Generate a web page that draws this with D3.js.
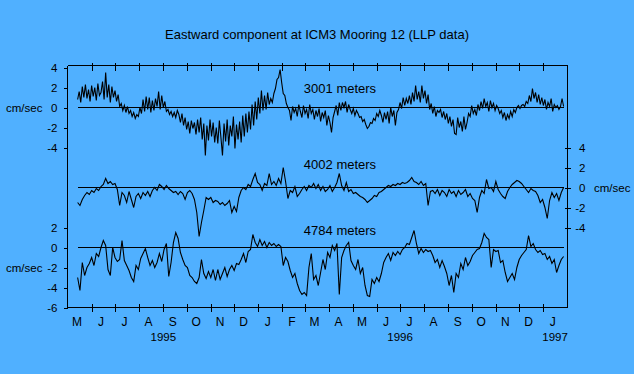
<!DOCTYPE html>
<html><head><meta charset="utf-8">
<script src="https://cdn.jsdelivr.net/npm/d3@7"></script>
<style>
html,body{margin:0;padding:0;background:#50B0FF;}
svg{display:block;}
text{font-family:"Liberation Sans",Arial,sans-serif;fill:#000;}
</style></head>
<body>
<svg id="c" width="634" height="374"></svg>
<script>
// ---------- data ----------
const title = "Eastward component at ICM3 Mooring 12 (LLP data)";
const seriesNames = ["3001 meters", "4002 meters", "4784 meters"];
const unitLabel = "cm/sec";
const startDate = "1995-05-14";      // first sample
const stepTop = 2;                   // sampling interval (days), 3001 m
const stepLow = 3;                   // sampling interval (days), 4002 m and 4784 m
const monthLetters = ["J","F","M","A","M","J","J","A","S","O","N","D"];
const yearLabels = [["1995","1995-09-01"],["1996","1996-07-01"],["1997","1997-01-16"]];
const ticksTop = [4,2,0,-2,-4];
const ticksMid = [4,2,0,-2,-4];
const ticksBot = [2,0,-2,-4,-6];

const v3001 = [
0.8,1.6,0.5,2.1,1.0,2.3,0.9,1.8,0.6,2.2,1.1,2.0,0.7,2.4,1.2,
1.5,2.6,0.8,3.5,1.0,2.3,0.5,2.1,1.0,1.7,0.6,1.3,0.1,0.4,-0.3,
0.2,-0.5,0.1,-0.6,-0.3,-0.9,-0.5,-1.1,-0.7,-0.9,0.0,-0.6,0.8,-0.4,1.1,
-0.2,1.0,-0.5,0.7,-0.3,0.9,0.1,1.6,-0.2,1.2,0.0,0.6,-0.4,-0.2,-0.7,
-0.4,-0.9,-0.5,-1.0,-0.3,-0.7,-1.5,-0.6,-1.8,-1.0,-2.2,-1.4,-2.6,-1.3,-2.1,
-1.5,-2.7,-1.2,-2.5,-1.0,-3.2,-1.6,-4.8,-1.8,-3.3,-1.2,-2.9,-1.5,-3.5,-2.0,
-3.6,-1.3,-3.0,-4.8,-1.6,-3.4,-1.2,-3.8,-1.8,-2.9,-0.9,-4.1,-1.7,-3.2,-1.4,
-3.5,-0.8,-2.9,-0.6,-2.5,-0.4,-2.2,0.3,-1.8,0.6,-1.2,1.0,-0.6,1.7,-0.3,
1.2,-0.2,1.5,0.3,0.9,0.5,1.4,1.9,2.8,3.0,3.8,2.5,1.4,1.2,0.4,
0.0,-0.3,-1.3,0.1,-0.5,-0.1,-0.9,0.3,-0.4,-1.0,0.2,-0.6,-0.2,-1.1,0.3,
-0.6,-0.2,-1.2,-0.3,-0.9,-0.1,-1.4,-0.5,-1.0,-0.3,-1.8,-0.8,-1.5,-2.5,-1.0,
-0.4,0.2,-0.8,0.5,-0.3,0.5,0.0,0.6,-0.5,0.3,-0.2,-0.6,-0.1,-0.8,-0.3,
-0.6,-1.0,-0.9,-1.4,-1.2,-1.7,-2.1,-1.9,-1.5,-1.6,-1.1,-1.3,-0.6,-0.9,-0.3,
-0.8,-1.5,-0.5,-1.2,-0.4,-1.6,0.0,-0.9,-0.3,-1.8,-0.5,-0.2,0.5,-0.1,1.0,
0.2,0.9,0.4,1.2,0.3,1.5,0.6,2.2,0.8,1.6,0.5,2.2,0.9,1.7,0.4,
1.3,-0.2,0.4,-0.6,0.1,-0.9,-0.3,-0.5,-0.2,-1.0,-0.4,-1.2,-0.6,-1.6,-0.9,
-1.9,-1.2,-2.6,-2.7,-1.0,-2.0,-1.4,-2.4,-0.9,-2.2,-1.5,-0.6,-0.9,0.2,-0.6,
-0.2,-0.8,0.3,-0.3,0.6,-0.1,0.9,0.1,0.5,-0.4,0.7,0.0,0.4,-0.3,0.2,
-0.1,-0.6,-0.3,-1.0,-0.5,-1.3,-0.7,-1.1,-0.4,-0.9,-0.2,-0.5,0.0,0.2,-0.1,
0.2,0.3,0.1,0.6,0.4,1.2,0.6,1.9,0.9,1.5,0.5,1.3,0.3,1.0,0.2,
0.8,-0.2,0.5,0.1,0.9,-0.4,0.3,0.0,0.2,-0.2,0.1,0.9,0.1];

const v4002 = [
-1.5,-1.8,-1.2,-0.8,-0.5,-0.7,-0.3,-0.5,-0.1,-0.3,
0.1,0.3,0.9,0.4,0.6,0.3,0.4,-0.2,-1.8,-0.5,
-0.8,-1.5,-0.4,-1.2,-2.0,-0.9,-0.6,-1.1,-0.5,-0.8,
-0.4,-0.9,-0.3,0.0,-0.3,0.3,0.1,-0.2,0.2,-0.1,
-0.3,-0.5,-0.4,-0.7,-0.4,-0.6,-1.2,-0.5,-0.3,-0.6,
-1.2,-2.5,-4.9,-3.5,-2.3,-1.0,-1.2,-1.0,-1.5,-1.3,
-1.4,-1.7,-1.5,-1.8,-1.6,-1.3,-2.5,-1.9,-2.4,-1.0,
-0.3,0.0,-0.2,0.3,0.1,0.8,1.4,0.5,0.3,-0.3,
0.4,0.2,1.4,0.3,0.6,0.2,0.9,0.4,2.0,0.6,
-1.1,-0.3,-0.5,0.1,-0.9,-0.6,-0.2,0.1,-0.3,0.2,
0.0,0.4,-0.1,0.3,-0.3,0.1,-0.4,-0.2,0.2,-0.4,
0.0,0.5,1.4,0.2,-0.3,0.5,-0.4,-0.2,-0.6,-0.5,
-0.7,-0.9,-1.0,-1.2,-1.5,-1.3,-1.1,-0.8,-0.9,-0.5,
-0.4,-0.2,0.0,0.2,0.1,0.3,0.2,0.4,0.3,0.5,
0.4,0.5,0.7,1.0,0.6,0.5,0.3,0.6,0.2,0.4,
-1.8,-0.4,-0.3,-0.6,-0.2,-0.8,-0.3,-0.5,-0.9,-0.2,
-0.6,-0.4,-0.9,-0.3,-0.7,-0.5,-0.2,-0.9,-0.6,-1.1,
-1.3,-2.5,-1.0,-0.3,-0.6,0.8,-0.1,0.0,-0.4,0.6,
-0.2,-0.6,-0.9,-1.1,-0.4,0.0,0.3,0.5,0.7,0.6,
0.4,0.1,-0.2,-0.5,-0.1,-0.3,-0.4,-0.8,-1.5,-1.2,
-2.0,-3.1,-1.3,-0.5,-1.0,-0.6,-1.3,-0.5,0.0];

const v4784 = [
-3.0,-4.3,-1.5,-2.8,-2.0,-1.6,-1.0,-1.8,-0.6,-0.9,
0.0,0.7,0.2,-2.2,-2.8,0.0,-1.0,-1.4,-1.2,0.7,
-1.3,-1.8,-2.3,-3.0,-3.4,-1.8,-2.2,-1.1,-0.6,-0.1,
-1.0,-1.8,-1.3,-2.0,-1.5,-0.6,-1.4,-0.2,0.4,-2.9,
-1.5,0.5,1.5,0.9,-0.5,-1.2,-1.8,-2.0,-2.8,-3.0,
-3.4,-3.6,-3.0,-1.2,-2.6,-3.1,-2.4,-3.0,-2.2,-3.3,
-2.2,-3.2,-2.6,-2.0,-2.9,-2.2,-1.8,-2.3,-1.6,-1.7,
-1.2,-0.6,-1.5,-0.4,-0.2,1.3,0.5,0.1,0.8,0.2,
0.6,0.0,0.5,0.2,0.4,0.1,0.3,0.1,-1.8,-1.0,
-1.4,-2.3,-3.0,-2.6,-3.6,-4.3,-4.7,-4.5,-4.8,-2.0,
-0.6,-3.2,-2.8,-3.8,-2.5,-1.2,-2.2,-0.5,-1.0,0.2,
-0.3,0.4,-4.7,-1.0,-0.3,0.2,0.5,-1.3,-1.8,-2.2,
-1.2,-2.6,-2.0,-3.8,-4.8,-4.9,-3.2,-3.6,-3.0,-3.4,
-2.6,-1.5,-1.0,-0.6,-1.3,-0.5,-0.8,-0.4,-0.7,-0.2,
0.0,0.4,0.3,1.0,1.7,0.4,-0.6,-0.1,-0.5,-0.2,
-0.4,-0.3,-0.8,-1.5,-1.2,-2.0,-1.3,-1.9,-2.6,-3.8,
-2.8,-4.5,-2.6,-3.0,-1.6,-2.2,-1.0,-1.8,-1.4,-0.8,
-0.5,-0.2,-0.1,0.5,1.4,1.0,0.8,-2.0,-0.2,-0.4,
-0.3,-1.5,-1.3,-2.5,-3.4,-3.0,-2.6,-3.2,-2.0,-1.2,
-0.8,-0.5,-0.2,1.2,0.1,0.4,-0.2,-0.5,-0.3,-0.7,
-0.6,-1.2,-0.9,-1.6,-1.2,-2.5,-1.8,-1.2,-0.9];

// ---------- layout ----------
const svg = d3.select("#c");
const FONT = '"Liberation Sans",Arial,sans-serif';
const parse = d3.timeParse("%Y-%m-%d");
const t0 = parse(startDate);
const datesFor = (n, step) => d3.range(n).map(i => d3.timeDay.offset(t0, step * i));

const x = d3.scaleTime()
  .domain([parse("1995-05-01"), parse("1997-02-01")])
  .range([67.5, 567.5]);
const yTop = d3.scaleLinear().domain([-4, 4]).range([147.5, 67.5]);
const yMid = d3.scaleLinear().domain([-4, 4]).range([227.5, 147.5]);
const yBot = d3.scaleLinear().domain([-6, 2]).range([307.5, 227.5]);
const topY = 65.5, botY = 307.5;
const fmt = d => String(d);

// title
svg.append("text").attr("x", 317).attr("y", 34).attr("text-anchor", "middle")
  .attr("dominant-baseline", "central").style("font-size", "13px").text(title);

// frame lines
const g = svg.append("g").attr("stroke", "#000").attr("stroke-width", 1).attr("fill", "none")
  .attr("shape-rendering", "crispEdges");
g.append("line").attr("x1", x.range()[0]).attr("x2", x.range()[1]).attr("y1", topY).attr("y2", topY);
g.append("line").attr("x1", x.range()[0]).attr("x2", x.range()[1]).attr("y1", botY).attr("y2", botY);
g.append("line").attr("x1", x.range()[0]).attr("x2", x.range()[0]).attr("y1", topY).attr("y2", botY);
g.append("line").attr("x1", x.range()[1]).attr("x2", x.range()[1]).attr("y1", topY).attr("y2", botY);

function styleAxis(sel, size) {
  sel.select(".domain").remove();
  sel.selectAll("line").attr("stroke", "#000").attr("stroke-width", 1).attr("shape-rendering", "crispEdges");
  sel.selectAll("text").style("font-family", FONT).style("font-size", size).attr("fill", "#000");
}

// month ticks (interior month boundaries)
const monthBounds = d3.timeMonth.range(d3.timeMonth.offset(x.domain()[0], 1), x.domain()[1]);
const axB = svg.append("g").attr("transform", `translate(0,${botY})`)
  .call(d3.axisBottom(x).tickValues(monthBounds).tickSize(4).tickFormat(""));
styleAxis(axB, "11px");
axB.selectAll(".tick line").attr("y1", -4);
const axT = svg.append("g").attr("transform", `translate(0,${topY})`)
  .call(d3.axisTop(x).tickValues(monthBounds).tickSize(3).tickFormat(""));
styleAxis(axT, "11px");
axT.selectAll(".tick line").attr("y1", 5);

// month letters
const months = d3.timeMonth.range(x.domain()[0], x.domain()[1]);
svg.append("g").selectAll("text").data(months).join("text")
  .attr("x", d => x(d3.timeDay.offset(d, 14)) - 1.5)
  .attr("y", 321.5).attr("text-anchor", "middle").attr("dominant-baseline", "central")
  .style("font-size", "12px").text(d => monthLetters[d.getMonth()]);
svg.append("g").selectAll("text").data(yearLabels).join("text")
  .attr("x", d => x(parse(d[1]))).attr("y", 336.5)
  .attr("text-anchor", "middle").attr("dominant-baseline", "central")
  .style("font-size", "11.5px").text(d => d[0]);

// y axes
const axL1 = svg.append("g").attr("transform", `translate(${x.range()[0]},0)`)
  .call(d3.axisLeft(yTop).tickValues(ticksTop).tickSize(4).tickPadding(6).tickFormat(fmt));
styleAxis(axL1, "11.5px");
const axL2 = svg.append("g").attr("transform", `translate(${x.range()[0]},0)`)
  .call(d3.axisLeft(yBot).tickValues(ticksBot).tickSize(4).tickPadding(6).tickFormat(fmt));
styleAxis(axL2, "11.5px");
const axR = svg.append("g").attr("transform", `translate(${x.range()[1]},0)`)
  .call(d3.axisRight(yMid).tickValues(ticksMid).tickSize(3).tickPadding(15).tickFormat(fmt));
styleAxis(axR, "11.5px");
axR.selectAll(".tick line").attr("x1", -3);
axR.selectAll(".tick text").attr("text-anchor", "end").attr("x", 18);

// unit labels
svg.append("text").attr("x", 6).attr("y", yTop(0)).attr("dominant-baseline", "central")
  .style("font-size", "11.5px").text(unitLabel);
svg.append("text").attr("x", 6).attr("y", yBot(-2)).attr("dominant-baseline", "central")
  .style("font-size", "11.5px").text(unitLabel);
svg.append("text").attr("x", 594).attr("y", yMid(0)).attr("dominant-baseline", "central")
  .style("font-size", "11.5px").text(unitLabel);

// series
const panels = [
  {vals: v3001, step: stepTop, y: yTop, name: seriesNames[0], ly: 88.5},
  {vals: v4002, step: stepLow, y: yMid, name: seriesNames[1], ly: 164.5},
  {vals: v4784, step: stepLow, y: yBot, name: seriesNames[2], ly: 230.5}
];
panels.forEach(p => {
  const dates = datesFor(p.vals.length, p.step);
  const d0 = dates[0], d1 = dates[dates.length - 1];
  svg.append("line").attr("x1", x(d0)).attr("x2", x(d1))
    .attr("y1", p.y(0)).attr("y2", p.y(0)).attr("stroke", "#000").attr("stroke-width", 1)
    .attr("shape-rendering", "crispEdges");
  const line = d3.line().x((v, i) => x(dates[i])).y(v => p.y(v));
  svg.append("path").attr("d", line(p.vals)).attr("fill", "none")
    .attr("stroke", "#000").attr("stroke-width", 1.1).attr("stroke-linejoin", "miter");
  svg.append("text").attr("x", 340).attr("y", p.ly).attr("text-anchor", "middle")
    .attr("dominant-baseline", "central").style("font-size", "13px").text(p.name);
});
</script>
</body></html>
